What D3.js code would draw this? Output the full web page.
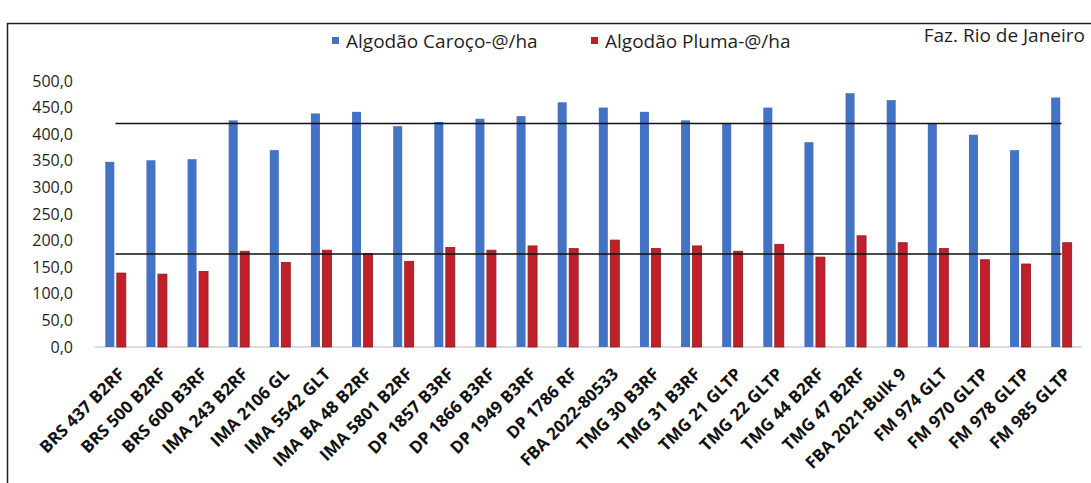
<!DOCTYPE html>
<html>
<head>
<meta charset="utf-8">
<script src="https://cdn.jsdelivr.net/npm/d3@7"></script>
<style>
  body { margin: 0; background: #fff; }
  svg { display: block; font-family: "Open Sans", "Liberation Sans", sans-serif; }
</style>
</head>
<body>
<div id="chart"></div>
<script>
var categories = ["BRS 437 B2RF", "BRS 500 B2RF", "BRS 600 B3RF", "IMA 243 B2RF", "IMA 2106 GL",
  "IMA 5542 GLT", "IMA BA 48 B2RF", "IMA 5801 B2RF", "DP 1857 B3RF", "DP 1866 B3RF",
  "DP 1949 B3RF", "DP 1786 RF", "FBA 2022-80533", "TMG 30 B3RF", "TMG 31 B3RF",
  "TMG 21 GLTP", "TMG 22 GLTP", "TMG 44 B2RF", "TMG 47 B2RF", "FBA 2021-Bulk 9",
  "FM 974 GLT", "FM 970 GLTP", "FM 978 GLTP", "FM 985 GLTP"];
var caroco = [348, 351, 353, 426, 370, 439, 442, 415, 423, 429, 434, 460,
  450, 442, 426, 420, 450, 385, 477, 464, 420, 399, 370, 469];
var pluma = [139, 137, 142, 180, 159, 182, 176, 161, 187, 182, 190, 185,
  201, 185, 190, 180, 193, 169, 209, 196, 185, 164, 156, 196];
var mediaCaroco = 420;
var mediaPluma = 175;
var yTicks = [0, 50, 100, 150, 200, 250, 300, 350, 400, 450, 500];
var seriesNames = ["Algodão Caroço-@/ha", "Algodão Pluma-@/ha"];
var colors = ["#4472c4", "#c0202a"];

var W = 1091, H = 483;
var svg = d3.select("#chart").append("svg").attr("width", W).attr("height", H);

// chart frame (runs off the picture on the right and bottom)
svg.append("rect")
  .attr("x", 7.5).attr("y", 23.5)
  .attr("width", 1100).attr("height", 480)
  .attr("fill", "none").attr("stroke", "#222").attr("stroke-width", 1.5);

var x = d3.scaleBand().domain(categories).range([95, 1082]);
var y = d3.scaleLinear().domain([0, 500]).range([347, 81]);

var barW = 9, gap = 2.5;

// y labels
svg.append("g").selectAll("text")
  .data(yTicks).enter().append("text")
  .attr("x", 73).attr("y", function(d){ return y(d); })
  .attr("dy", "0.35em")
  .attr("text-anchor", "end")
  .attr("font-size", "16px")
  .attr("fill", "#1f1f1f")
  .text(function(d){ return d3.format(".1f")(d).replace(".", ","); });

// baseline
svg.append("line")
  .attr("x1", x.range()[0]).attr("x2", x.range()[1])
  .attr("y1", y(0)).attr("y2", y(0))
  .attr("stroke", "#d0d0d0").attr("stroke-width", 1.5);

var groups = svg.append("g").selectAll("g")
  .data(categories).enter().append("g")
  .attr("transform", function(d){ return "translate(" + (x(d) + x.bandwidth() / 2) + ",0)"; });

groups.append("rect")
  .attr("x", -barW - gap / 2)
  .attr("y", function(d, i){ return y(caroco[i]); })
  .attr("width", barW)
  .attr("height", function(d, i){ return y(0) - y(caroco[i]); })
  .attr("fill", colors[0]);

groups.append("rect")
  .attr("x", gap / 2)
  .attr("y", function(d, i){ return y(pluma[i]); })
  .attr("width", barW)
  .attr("height", function(d, i){ return y(0) - y(pluma[i]); })
  .attr("fill", colors[1])
  .attr("stroke", "#8e1a1f").attr("stroke-width", 0.8);

// average lines
var line = d3.line()
  .x(function(d){ return x(d) + x.bandwidth() / 2; });
svg.append("path")
  .datum(categories)
  .attr("d", line.y(function(){ return y(mediaCaroco); }))
  .attr("fill", "none").attr("stroke", "#111").attr("stroke-width", 1.5);
svg.append("path")
  .datum(categories)
  .attr("d", line.y(function(){ return y(mediaPluma); }))
  .attr("fill", "none").attr("stroke", "#111").attr("stroke-width", 1.5);

// x labels
groups.append("text")
  .attr("transform", "translate(6," + (y(0) + 24) + ") rotate(-45)")
  .attr("text-anchor", "end")
  .attr("dy", "0.35em")
  .attr("font-size", "17px")
  .attr("font-weight", "bold")
  .attr("fill", "#111")
  .text(function(d){ return d; });

// legend
var legendX = [332, 591];
var legend = svg.append("g").selectAll("g")
  .data(seriesNames).enter().append("g")
  .attr("transform", function(d, i){ return "translate(" + legendX[i] + ",41)"; });
legend.append("rect")
  .attr("x", 0).attr("y", -4).attr("width", 7).attr("height", 7)
  .attr("fill", function(d, i){ return colors[i]; });
legend.append("text")
  .attr("x", 14).attr("dy", "0.35em")
  .attr("font-size", "19px")
  .attr("fill", "#1f1f1f")
  .text(function(d){ return d; });

svg.append("text")
  .attr("x", 1085).attr("y", 35).attr("dy", "0.35em")
  .attr("text-anchor", "end")
  .attr("font-size", "19px")
  .attr("fill", "#1f1f1f")
  .text("Faz. Rio de Janeiro");
</script>
</body>
</html>
